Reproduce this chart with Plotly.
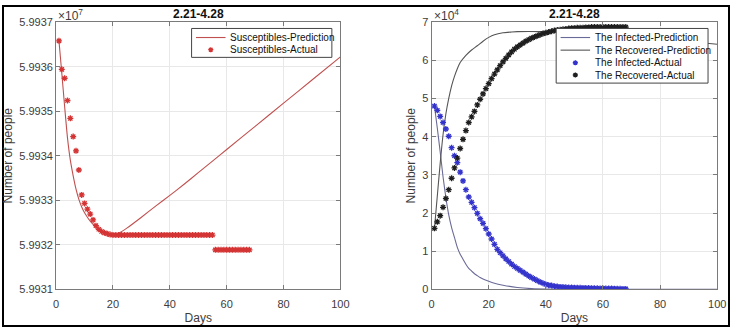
import plotly.graph_objects as go

# ---------------- data ----------------
# Left panel: susceptibles (people)
s_actual_days = list(range(1, 69))
s_actual = [
    59936580, 59935940, 59935740, 59935240, 59934840, 59934430, 59934110, 59933680,
    59933120, 59932930, 59932800, 59932690, 59932560, 59932430, 59932350, 59932300,
    59932270, 59932250, 59932230,
    59932220, 59932220, 59932220, 59932220, 59932220, 59932220, 59932220, 59932220,
    59932220, 59932220, 59932220, 59932220, 59932220, 59932220, 59932220, 59932220,
    59932220, 59932220, 59932220, 59932220, 59932220, 59932220, 59932220, 59932220,
    59932220, 59932220, 59932220, 59932220, 59932220, 59932220, 59932220, 59932220,
    59932220, 59932220, 59932220, 59932220,
    59931887, 59931887, 59931887, 59931887, 59931887, 59931887, 59931887, 59931887,
    59931887, 59931887, 59931887, 59931887, 59931887,
]
s_pred_days = [1, 2, 3, 4, 5, 6, 7, 8, 9, 10, 11, 12, 13, 14, 15, 16, 17, 18, 19, 20,
               21, 22, 25, 30, 35, 40, 45, 50, 55, 60, 70, 80, 90, 100]
s_pred = [59936580, 59935850, 59935100, 59934400, 59933900, 59933550, 59933250, 59933020,
          59932850, 59932720, 59932620, 59932530, 59932460, 59932400, 59932350, 59932310,
          59932280, 59932255, 59932240, 59932235, 59932240, 59932260, 59932380, 59932620,
          59932870, 59933110, 59933360, 59933620, 59933880, 59934140, 59934660, 59935180,
          59935700, 59936220]

# Right panel: infected / recovered (units of 1e4 people)
ir_actual_days = list(range(1, 69))
i_actual = [4.80, 4.69, 4.53, 4.37, 4.20, 4.01, 3.71, 3.50, 3.32, 3.07, 2.84, 2.61, 2.42,
            2.28, 2.14, 1.99, 1.85, 1.73, 1.59, 1.45, 1.32, 1.18, 1.05, 0.96, 0.88, 0.80,
            0.73, 0.66, 0.60, 0.55, 0.50, 0.45, 0.40, 0.35, 0.31, 0.27, 0.23, 0.19, 0.16,
            0.13, 0.11, 0.10, 0.085, 0.075, 0.065, 0.06, 0.055, 0.05, 0.047, 0.045, 0.042,
            0.04, 0.038, 0.036, 0.034, 0.032, 0.03, 0.028, 0.026, 0.025, 0.023, 0.021,
            0.02, 0.018, 0.016, 0.015, 0.013, 0.012]
r_actual = [1.60, 1.77, 1.93, 2.15, 2.38, 2.61, 2.91, 3.18, 3.44, 3.69, 3.93, 4.16, 4.37,
            4.52, 4.66, 4.83, 4.98, 5.12, 5.26, 5.39, 5.52, 5.64, 5.75, 5.86, 5.96, 6.05,
            6.14, 6.22, 6.29, 6.35, 6.40, 6.45, 6.50, 6.54, 6.58, 6.61, 6.64, 6.67, 6.70,
            6.72, 6.74, 6.76, 6.78, 6.79, 6.80, 6.81, 6.82, 6.83, 6.84, 6.84, 6.85, 6.85,
            6.85, 6.86, 6.86, 6.87, 6.87, 6.87, 6.87, 6.87, 6.87, 6.87, 6.87, 6.87, 6.87,
            6.87, 6.87, 6.87]
i_pred_days = [1, 2, 3, 4, 5, 6, 7, 8, 9, 10, 11, 12, 13, 14, 15, 16, 17, 18, 20, 22, 25,
               30, 35, 40, 50, 60, 80, 100]
i_pred = [4.80, 4.22, 3.60, 2.95, 2.40, 1.95, 1.62, 1.36, 1.10, 0.92, 0.79, 0.66, 0.55,
          0.48, 0.41, 0.36, 0.31, 0.27, 0.21, 0.16, 0.11, 0.05, 0.02, 0.008, 0.002, 0.0,
          0.0, 0.0]
r_pred_days = [1, 2, 3, 4, 5, 6, 7, 8, 9, 10, 12, 14, 16, 18, 20, 22, 25, 28, 30, 40, 50,
               60, 70, 80, 90, 100]
r_pred = [1.60, 2.45, 3.30, 4.05, 4.60, 5.00, 5.33, 5.58, 5.78, 5.94, 6.13, 6.27, 6.38,
          6.50, 6.60, 6.67, 6.72, 6.74, 6.75, 6.75, 6.73, 6.68, 6.62, 6.56, 6.49, 6.42]

x_ticks = [0, 20, 40, 60, 80, 100]
s_ticks = [59931000, 59932000, 59933000, 59934000, 59935000, 59936000, 59937000]
s_tick_text = ["5.9931", "5.9932", "5.9933", "5.9934", "5.9935", "5.9936", "5.9937"]
ir_ticks = [0, 1, 2, 3, 4, 5, 6, 7]

title_text = "2.21-4.28"
left_legend_names = ["Susceptibles-Prediction", "Susceptibles-Actual"]
right_legend_names = ["The Infected-Prediction", "The Recovered-Prediction",
                      "The Infected-Actual", "The Recovered-Actual"]

# ---------------- styling ----------------
W, H = 738, 332
FONT = "Liberation Sans, Arial, sans-serif"
AX = "#7a7a7a"
GRID = "#e8e8e8"
TXT = "#3c3c3c"
C_S_LINE, C_S_MK = "#c0504f", "#d43434"
C_I_LINE, C_R_LINE = "#6a6a98", "#555555"
C_I_MK, C_R_MK = "#3434cc", "#1e1e1e"

fig = go.Figure()

def star(color):
    return dict(symbol="asterisk-open", size=5, color=color, line=dict(color=color, width=1.3))

fig.add_trace(go.Scatter(x=s_pred_days, y=s_pred, mode="lines", name=left_legend_names[0],
                         line=dict(color=C_S_LINE, width=1.1, shape="spline", smoothing=0.6),
                         xaxis="x", yaxis="y"))
fig.add_trace(go.Scatter(x=s_actual_days, y=s_actual, mode="markers", name=left_legend_names[1],
                         marker=star(C_S_MK), xaxis="x", yaxis="y"))
fig.add_trace(go.Scatter(x=i_pred_days, y=i_pred, mode="lines", name=right_legend_names[0],
                         line=dict(color=C_I_LINE, width=1.1, shape="spline", smoothing=0.6),
                         xaxis="x2", yaxis="y2"))
fig.add_trace(go.Scatter(x=r_pred_days, y=r_pred, mode="lines", name=right_legend_names[1],
                         line=dict(color=C_R_LINE, width=1.1, shape="spline", smoothing=0.6),
                         xaxis="x2", yaxis="y2"))
fig.add_trace(go.Scatter(x=ir_actual_days, y=i_actual, mode="markers", name=right_legend_names[2],
                         marker=star(C_I_MK), xaxis="x2", yaxis="y2"))
fig.add_trace(go.Scatter(x=ir_actual_days, y=r_actual, mode="markers", name=right_legend_names[3],
                         marker=star(C_R_MK), xaxis="x2", yaxis="y2"))

y_dom = [1 - 294 / H, 1 - 16.7 / H]

def xaxis_style(domain, anchor):
    return dict(domain=domain, anchor=anchor, range=[0, 100], tickvals=x_ticks,
                showgrid=True, gridcolor=GRID, gridwidth=1, zeroline=False,
                showline=True, linecolor=AX, linewidth=1, mirror="ticks",
                ticks="inside", ticklen=4, tickcolor=AX, ticklabelstandoff=4,
                tickfont=dict(family=FONT, size=11, color=TXT),
                title=dict(text="Days", font=dict(family=FONT, size=12, color=TXT), standoff=5))

def yaxis_style(anchor, rng, tickvals, ticktext=None):
    d = dict(domain=y_dom, anchor=anchor, range=rng, tickvals=tickvals,
             showgrid=True, gridcolor=GRID, gridwidth=1, zeroline=False,
             showline=True, linecolor=AX, linewidth=1, mirror="ticks",
             ticks="inside", ticklen=4, tickcolor=AX,
             tickfont=dict(family=FONT, size=11, color=TXT),
             title=dict(text="Number of people", font=dict(family=FONT, size=12, color=TXT),
                        standoff=4))
    if ticktext is not None:
        d["ticktext"] = ticktext
    return d

fig.update_layout(
    width=W, height=H,
    margin=dict(l=0, r=0, t=0, b=0),
    paper_bgcolor="white", plot_bgcolor="white",
    showlegend=False,
    xaxis=xaxis_style([54 / W, 343 / W], "y"),
    yaxis=yaxis_style("x", [59931000, 59937000], s_ticks, s_tick_text),
    xaxis2=xaxis_style([435.7 / W, 726 / W], "y2"),
    yaxis2=yaxis_style("x2", [0, 7], ir_ticks),
)

# titles and exponent labels
for cx in [(54 + 343) / 2, (435.7 + 726) / 2]:
    fig.add_annotation(x=cx / W, y=1 - 8.5 / H, xref="paper", yref="paper",
                       text="<b>" + title_text + "</b>", showarrow=False,
                       xanchor="center", yanchor="middle",
                       font=dict(family=FONT, size=12, color="#111111"))
fig.add_annotation(x=54 / W, y=1 - 9 / H, xref="paper", yref="paper",
                   text="×10<sup>7</sup>", showarrow=False, xanchor="left", yanchor="middle",
                   font=dict(family=FONT, size=12, color=TXT))
fig.add_annotation(x=436 / W, y=1 - 9 / H, xref="paper", yref="paper",
                   text="×10<sup>4</sup>", showarrow=False, xanchor="left", yanchor="middle",
                   font=dict(family=FONT, size=12, color=TXT))

# ---------------- legends (MATLAB-style compact boxes) ----------------
def px(x):
    return x / W

def py(y):
    return 1 - y / H

def star_path(cx, cy, r=2.6):
    d = r * 0.72
    return (f"M{px(cx - r)},{py(cy)} L{px(cx + r)},{py(cy)} "
            f"M{px(cx)},{py(cy - r)} L{px(cx)},{py(cy + r)} "
            f"M{px(cx - d)},{py(cy - d)} L{px(cx + d)},{py(cy + d)} "
            f"M{px(cx - d)},{py(cy + d)} L{px(cx + d)},{py(cy - d)}")

def draw_legend(x0, x1, y0, y1, rows, names, kinds, colors):
    fig.add_shape(type="rect", xref="paper", yref="paper", x0=px(x0), x1=px(x1),
                  y0=py(y1), y1=py(y0), fillcolor="white",
                  line=dict(color="#444444", width=1), layer="above")
    for ry, name, kind, col in zip(rows, names, kinds, colors):
        if kind == "line":
            fig.add_shape(type="line", xref="paper", yref="paper",
                          x0=px(x0 + 4.5), x1=px(x0 + 34.5), y0=py(ry), y1=py(ry),
                          line=dict(color=col, width=1.1), layer="above")
        else:
            fig.add_shape(type="path", xref="paper", yref="paper", path=star_path(x0 + 19.5, ry),
                          line=dict(color=col, width=1.3), layer="above")
        fig.add_annotation(x=px(x0 + 37.5), y=py(ry), xref="paper", yref="paper", text=name,
                           showarrow=False, xanchor="left", yanchor="middle",
                           font=dict(family=FONT, size=10, color="#111111"))

draw_legend(191.7, 334.3, 23.3, 53.3, [32.7, 45.3], left_legend_names,
            ["line", "marker"], [C_S_LINE, C_S_MK])
draw_legend(562.3, 716.7, 23.3, 80.0, [32.7, 45.8, 58.9, 71.6], right_legend_names,
            ["line", "line", "marker", "marker"], [C_I_LINE, C_R_LINE, C_I_MK, C_R_MK])

# outer frame
fig.add_shape(type="rect", xref="paper", yref="paper", x0=0, y0=0, x1=1, y1=1,
              line=dict(color="black", width=2))

fig.write_html("out.html")
